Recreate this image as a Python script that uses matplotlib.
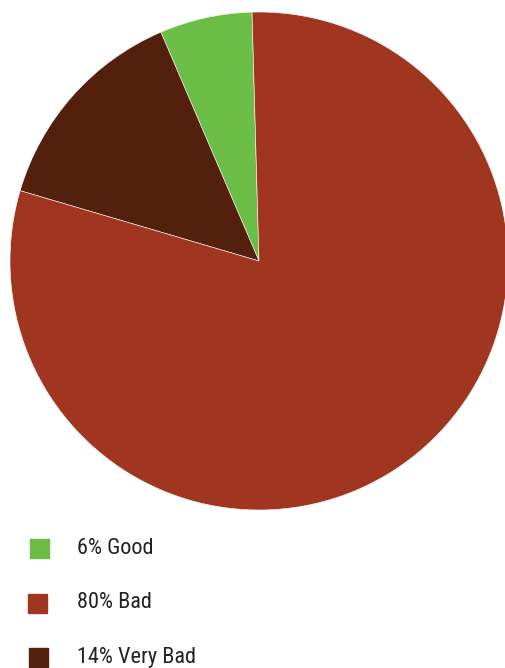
import matplotlib
matplotlib.use('Agg')
import matplotlib.pyplot as plt
from matplotlib.patches import Rectangle

# slice values, drawn counterclockwise from the top
pie_labels = ['Good', 'Very Bad', 'Bad']
pie_values = [6, 14, 80]
pie_colors = ['#6bbe45', '#53200e', '#a0361f']

# legend order as shown under the chart
legend_labels = ['6% Good', '80% Bad', '14% Very Bad']
legend_colors = ['#6bbe45', '#a0361f', '#53200e']

W, H = 505, 668
fig = plt.figure(figsize=(W / 100, H / 100), dpi=100)
ax = fig.add_axes([0, 0, 1, 1])
ax.set_xlim(0, W)
ax.set_ylim(0, H)
ax.set_aspect('equal')
ax.axis('off')

ax.pie(pie_values, colors=pie_colors, startangle=91.6, counterclock=True,
       center=(259, H - 261), radius=249,
       wedgeprops=dict(edgecolor='white', linewidth=0.4))
ax.set_xlim(0, W)
ax.set_ylim(0, H)

rows_y = [548, 603, 657]
box_x = [30, 28, 29]
for i in range(len(legend_labels)):
    y = H - rows_y[i]
    ax.add_patch(Rectangle((box_x[i], y - 10), 19, 19, color=legend_colors[i]))
    ax.text(77, y, legend_labels[i], fontsize=16, color='#222222',
            va='center', ha='left',
            family=['Roboto Condensed', 'Roboto', 'DejaVu Sans'])

fig.savefig('out.png', dpi=100)
